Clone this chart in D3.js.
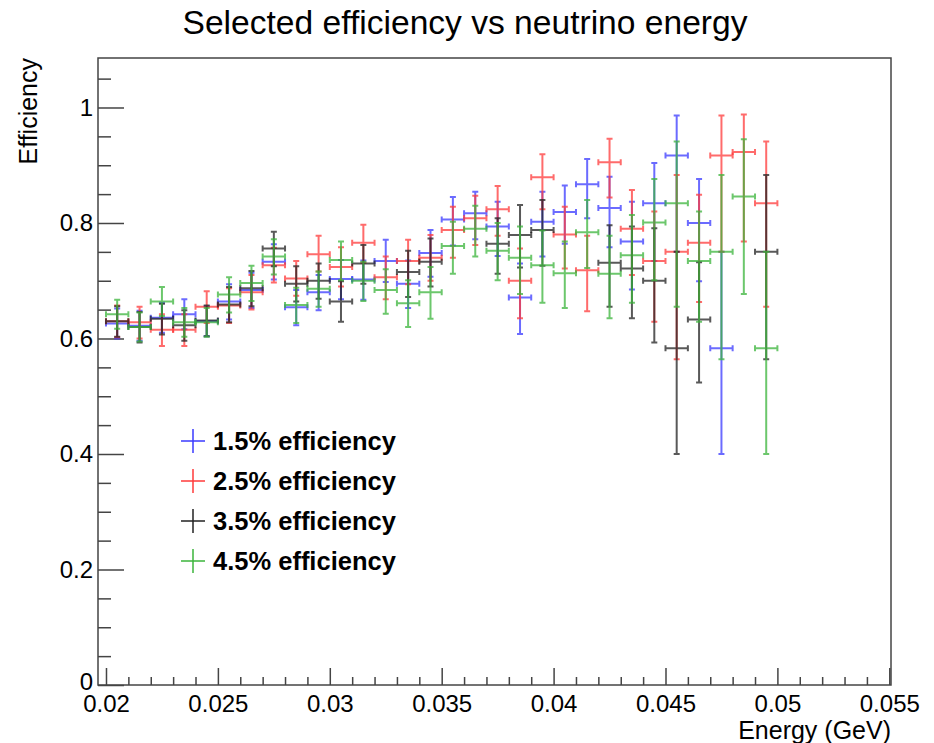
<!DOCTYPE html>
<html>
<head>
<meta charset="utf-8">
<script src="https://cdn.jsdelivr.net/npm/d3@7"></script>
<style>
  html, body { margin: 0; padding: 0; background: #fff; }
  svg { display: block; font-family: "Liberation Sans", Arial, Helvetica, sans-serif; }
</style>
</head>
<body>
<svg id="chart" width="934" height="743"></svg>
<script>
// ---------------- data ----------------
const energy = [0.0205,0.0215,0.0225,0.0235,0.0245,0.0255,0.0265,0.0275,0.0285,0.0295,
                0.0305,0.0315,0.0325,0.0335,0.0345,0.0355,0.0365,0.0375,0.0385,0.0395,
                0.0405,0.0415,0.0425,0.0435,0.0445,0.0455,0.0465,0.0475,0.0485,0.0495];
const binWidth = 0.001;

const eff15 = [0.626,0.622,0.636,0.642,0.630,0.664,0.684,0.733,0.654,0.680,
               0.703,0.702,0.734,0.695,0.748,0.806,0.817,0.794,0.671,0.802,
               0.819,0.867,0.826,0.768,0.834,0.917,0.800,0.583,null,null];
const eff15Hi = [0.026,0.026,0.026,0.026,0.026,0.030,0.030,0.030,0.030,0.030,
                 0.033,0.033,0.037,0.040,0.040,0.039,0.037,0.043,0.059,0.052,
                 0.046,0.044,0.054,0.069,0.070,0.069,0.076,0.167,null,null];
const eff15Lo = [0.026,0.026,0.026,0.026,0.026,0.031,0.031,0.031,0.031,0.031,
                 0.035,0.035,0.036,0.042,0.041,0.045,0.045,0.051,0.063,0.060,
                 0.055,0.059,0.068,0.083,0.100,0.167,0.101,0.183,null,null];

const eff25 = [0.630,0.628,0.615,0.615,0.655,0.657,0.680,0.727,0.704,0.746,
               0.724,0.766,0.706,0.734,0.740,0.788,0.808,0.824,0.700,0.879,
               0.780,0.718,0.905,0.790,0.734,0.750,0.766,0.917,0.923,0.834];
const eff25Hi = [0.027,0.027,0.027,0.027,0.027,0.030,0.030,0.030,0.030,0.032,
                 0.034,0.031,0.036,0.037,0.039,0.040,0.039,0.040,0.056,0.040,
                 0.048,0.060,0.041,0.067,0.086,0.133,0.083,0.069,0.065,0.107];
const eff25Lo = [0.028,0.028,0.028,0.028,0.028,0.030,0.030,0.030,0.030,0.030,
                 0.034,0.035,0.038,0.040,0.040,0.048,0.046,0.046,0.065,0.055,
                 0.059,0.071,0.061,0.080,0.105,0.186,0.103,0.167,0.155,0.179];

const eff35 = [0.630,0.620,0.634,0.623,0.631,0.659,0.687,0.756,0.695,0.700,
               0.664,0.730,null,0.715,0.733,null,null,0.764,0.779,0.788,
               null,null,0.731,0.721,0.700,0.583,0.633,null,null,0.750];
const eff35Hi = [0.026,0.026,0.026,0.026,0.026,0.030,0.030,0.029,0.030,0.030,
                 0.035,0.032,null,0.037,0.040,null,null,0.044,0.052,0.052,
                 null,null,0.065,0.073,0.091,0.167,0.099,null,null,0.133];
const eff35Lo = [0.027,0.027,0.027,0.027,0.027,0.031,0.031,0.031,0.031,0.031,
                 0.035,0.035,null,0.043,0.043,null,null,0.052,0.056,0.062,
                 null,null,0.076,0.086,0.107,0.183,0.109,null,null,0.186];

const eff45 = [0.642,0.620,0.664,0.628,0.628,0.676,0.696,0.742,0.658,0.686,
               0.736,0.700,0.684,0.661,0.680,0.760,0.790,0.752,0.740,0.727,
               0.713,0.784,0.712,0.744,0.801,0.834,0.734,0.750,0.846,0.583];
const eff45Hi = [0.025,0.025,0.025,0.025,0.025,0.030,0.030,0.030,0.030,0.030,
                 0.032,0.033,0.036,0.040,0.044,0.042,0.040,0.048,0.054,0.060,
                 0.055,0.056,0.066,0.070,0.075,0.107,0.086,0.133,0.099,0.167];
const eff45Lo = [0.025,0.025,0.025,0.025,0.025,0.031,0.031,0.031,0.031,0.031,
                 0.035,0.035,0.041,0.041,0.046,0.048,0.048,0.051,0.063,0.065,
                 0.060,0.062,0.077,0.082,0.100,0.179,0.105,0.186,0.169,0.183];

const seriesNames = ["1.5% efficiency","2.5% efficiency","3.5% efficiency","4.5% efficiency"];

const xMajorTicks = [0.02,0.025,0.03,0.035,0.04,0.045,0.05,0.055];
const xTickLabels = ["0.02","0.025","0.03","0.035","0.04","0.045","0.05","0.055"];
const xMinorTicks = [0.021,0.022,0.023,0.024,0.026,0.027,0.028,0.029,0.031,0.032,0.033,0.034,
                     0.036,0.037,0.038,0.039,0.041,0.042,0.043,0.044,0.046,0.047,0.048,0.049,
                     0.051,0.052,0.053,0.054];
const yMajorTicks = [0,0.2,0.4,0.6,0.8,1];
const yTickLabels = ["0","0.2","0.4","0.6","0.8","1"];
const yMinorTicks = [0.05,0.1,0.15,0.25,0.3,0.35,0.45,0.5,0.55,0.65,0.7,0.75,0.85,0.9,0.95,1.05];
const xDomain = [0.019643, 0.055076];
const yDomain = [0, 1.0857];

// ---------------- layout / style ----------------
const colors = ["#3a3aff","#ff3a3a","#222222","#3bb43b"];
const L = 98, R = 891, T = 58, B = 685;
const svg = d3.select("#chart");

const x = d3.scaleLinear().domain(xDomain).range([L, R]);
const y = d3.scaleLinear().domain(yDomain).range([B, T]);

// title
svg.append("text").attr("x", 465).attr("y", 34).attr("text-anchor", "middle")
  .attr("font-size", 33.6).attr("fill", "#000").text("Selected efficiency vs neutrino energy");

// axes
const axisColor = "#444";
const gx = svg.append("g").attr("transform", `translate(0,${B})`)
  .call(d3.axisBottom(x).tickValues(xMajorTicks).tickSizeInner(-17).tickSizeOuter(0)
        .tickFormat((d, i) => xTickLabels[i]).tickPadding(0));
const gxm = svg.append("g").attr("transform", `translate(0,${B})`)
  .call(d3.axisBottom(x).tickValues(xMinorTicks).tickSizeInner(-8).tickSizeOuter(0).tickFormat(""));
const gy = svg.append("g").attr("transform", `translate(${L},0)`)
  .call(d3.axisLeft(y).tickValues(yMajorTicks).tickSizeInner(-26).tickSizeOuter(0)
        .tickFormat((d, i) => yTickLabels[i]).tickPadding(0));
const gym = svg.append("g").attr("transform", `translate(${L},0)`)
  .call(d3.axisLeft(y).tickValues(yMinorTicks).tickSizeInner(-13).tickSizeOuter(0).tickFormat(""));
[gx, gxm, gy, gym].forEach(g => {
  g.select(".domain").remove();
  g.selectAll(".tick line").attr("stroke", axisColor).attr("stroke-width", 1.5);
});
gx.selectAll(".tick text").attr("y", 712 - B).attr("dy", null)
  .attr("font-size", 24).attr("fill", "#000").attr("font-family", "Liberation Sans, Arial, sans-serif");
gy.selectAll(".tick text").attr("x", -5).attr("dy", (d, i) => i === 0 ? "0.2em" : "0.33em")
  .attr("font-size", 24).attr("fill", "#000").attr("font-family", "Liberation Sans, Arial, sans-serif");

// frame
svg.append("rect").attr("x", L).attr("y", T).attr("width", R - L).attr("height", B - T)
  .attr("fill", "none").attr("stroke", axisColor).attr("stroke-width", 1.5);

// axis titles
svg.append("text").attr("x", R).attr("y", 739).attr("text-anchor", "end")
  .attr("font-size", 25).attr("fill", "#000").text("Energy (GeV)");
svg.append("text").attr("transform", `translate(37,${T}) rotate(-90)`).attr("text-anchor", "end")
  .attr("font-size", 25).attr("fill", "#000").text("Efficiency");

// data series
const series = [
  {v: eff15, hi: eff15Hi, lo: eff15Lo},
  {v: eff25, hi: eff25Hi, lo: eff25Lo},
  {v: eff35, hi: eff35Hi, lo: eff35Lo},
  {v: eff45, hi: eff45Hi, lo: eff45Lo}
];
const cap = 3;
series.forEach((s, si) => {
  const g = svg.append("g").attr("stroke", colors[si]).attr("stroke-width", 2)
    .attr("stroke-opacity", 0.75).attr("fill", "none");
  const pts = energy.map((e, i) => ({e, v: s.v[i], hi: s.hi[i], lo: s.lo[i]})).filter(d => d.v !== null);
  pts.forEach(d => {
    const cx = x(d.e), cy = y(d.v);
    const x0 = x(d.e - binWidth / 2), x1 = x(d.e + binWidth / 2);
    const yt = y(d.v + d.hi), yb = y(d.v - d.lo);
    const path = d3.path();
    path.moveTo(x0, cy); path.lineTo(x1, cy);
    path.moveTo(x0, cy - cap); path.lineTo(x0, cy + cap);
    path.moveTo(x1, cy - cap); path.lineTo(x1, cy + cap);
    path.moveTo(cx, yt); path.lineTo(cx, yb);
    path.moveTo(cx - cap, yt); path.lineTo(cx + cap, yt);
    path.moveTo(cx - cap, yb); path.lineTo(cx + cap, yb);
    g.append("path").attr("d", path.toString());
  });
});

// legend
const legY = [441, 481, 521, 561];
seriesNames.forEach((name, i) => {
  const lg = svg.append("g");
  lg.append("line").attr("x1", 181).attr("x2", 205).attr("y1", legY[i]).attr("y2", legY[i])
    .attr("stroke", colors[i]).attr("stroke-width", 1.5);
  lg.append("line").attr("x1", 193).attr("x2", 193).attr("y1", legY[i] - 12).attr("y2", legY[i] + 12)
    .attr("stroke", colors[i]).attr("stroke-width", 1.5);
  lg.append("text").attr("x", 213).attr("y", legY[i]).attr("dy", "0.36em")
    .attr("font-size", 25.5).attr("font-weight", "bold").attr("fill", "#000").text(name);
});
</script>
</body>
</html>
